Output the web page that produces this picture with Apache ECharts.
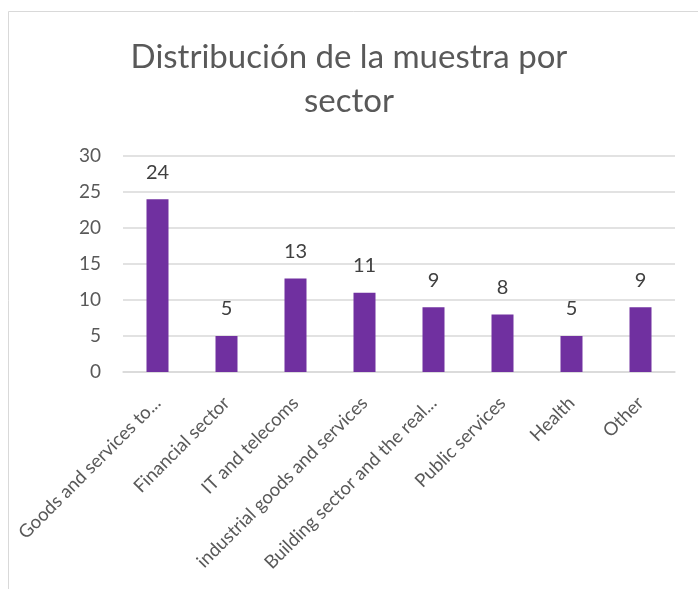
<!DOCTYPE html>
<html>
<head>
<meta charset="utf-8">
<script src="https://cdn.jsdelivr.net/npm/echarts@6/dist/echarts.min.js"></script>
<style>
  html, body { margin: 0; padding: 0; background: #fff; }
  #grafico { width: 698px; height: 589px; }
</style>
</head>
<body>
<div id="grafico"></div>
<script>
// datos
const sectores = [
  "Goods and services to...",
  "Financial sector",
  "IT and telecoms",
  "industrial goods and services",
  "Building sector and the real...",
  "Public services",
  "Health",
  "Other"
];
const muestra = [24, 5, 13, 11, 9, 8, 5, 9];
const ticksY = [0, 5, 10, 15, 20, 25, 30];

const fuente = "Lato, 'Open Sans', sans-serif";
const chart = echarts.init(document.getElementById("grafico"));

chart.setOption({
  backgroundColor: "#fff",
  animation: false,
  // marco gris del área del gráfico (sale por la derecha y abajo)
  graphic: [{
    type: "rect",
    shape: { x: 8.5, y: 11.5, width: 900, height: 900 },
    style: { fill: "none", stroke: "#d9d9d9", lineWidth: 1 },
    silent: true
  }],
  title: {
    text: "Distribución de la muestra por\nsector",
    left: "center",
    top: 30,
    textStyle: { color: "#595959", fontSize: 33, fontWeight: "normal", fontFamily: fuente, lineHeight: 44 }
  },
  grid: { left: 123, right: 23, top: 156, bottom: 217, containLabel: false },
  xAxis: {
    type: "category",
    data: sectores,
    axisLine: { show: true, lineStyle: { color: "#d9d9d9", width: 1.5 } },
    axisTick: { show: false },
    axisLabel: { rotate: 45, interval: 0, color: "#595959", fontSize: 18.5, fontFamily: fuente, margin: 28 }
  },
  yAxis: {
    type: "value",
    min: ticksY[0],
    max: ticksY[ticksY.length - 1],
    interval: 5,
    axisLine: { show: false },
    axisTick: { show: false },
    axisLabel: { color: "#595959", fontSize: 19, fontFamily: fuente, margin: 22 },
    splitLine: { lineStyle: { color: "#d9d9d9", width: 1.5 } }
  },
  series: [{
    type: "bar",
    data: muestra,
    barWidth: 22,
    itemStyle: { color: "#7030a0" },
    label: {
      show: true,
      position: "top",
      distance: 17,
      color: "#404040",
      fontSize: 20,
      fontFamily: fuente
    }
  }]
});
</script>
</body>
</html>
